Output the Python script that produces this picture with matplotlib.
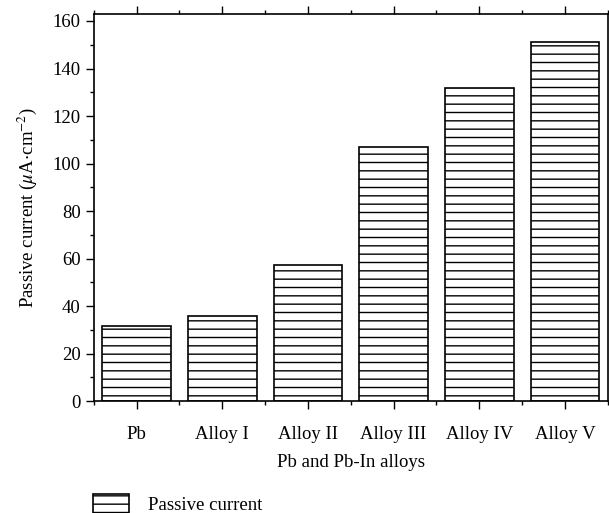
import numpy as np
import matplotlib
matplotlib.use('Agg')
import matplotlib.pyplot as plt
from matplotlib.ticker import MultipleLocator

plt.rcParams['font.family'] = ['Liberation Serif', 'DejaVu Serif']
plt.rcParams['mathtext.fontset'] = 'stix'
plt.rcParams['hatch.linewidth'] = 1.0
plt.rcParams['font.size'] = 13.5

categories = ['Pb', 'Alloy I', 'Alloy II', 'Alloy III', 'Alloy IV', 'Alloy V']
passive_current = [31.5, 36, 57.5, 107, 132, 151]

fig = plt.figure(figsize=(6.09, 5.13), dpi=100)
ax = fig.add_axes([0.154, 0.218, 0.844, 0.755])

x = np.arange(len(categories))
ax.bar(x, passive_current, width=0.8, color='white', edgecolor='black',
       linewidth=1.2, hatch='--', label='Passive current')

ax.set_xlim(-0.5, len(categories) - 0.5)
ax.set_ylim(0, 163)
ax.set_xticks(x)
ax.set_xticklabels(categories)
ax.xaxis.set_minor_locator(MultipleLocator(0.5))
ax.yaxis.set_major_locator(MultipleLocator(20))
ax.yaxis.set_minor_locator(MultipleLocator(10))

ax.tick_params(axis='x', which='both', direction='out', top=True, bottom=True)
ax.tick_params(axis='x', which='major', length=6, width=1, pad=12)
ax.tick_params(axis='x', which='minor', length=3, width=1)
ax.tick_params(axis='y', which='both', direction='out', left=True, right=False)
ax.tick_params(axis='y', which='major', length=6, width=1)
ax.tick_params(axis='y', which='minor', length=3, width=1)
for s in ax.spines.values():
    s.set_linewidth(1.2)

ax.set_xlabel('Pb and Pb-In alloys', labelpad=8)
ax.set_ylabel(r'Passive current ($\mu$A$\cdot$cm$^{-2}$)', labelpad=10)

fig.legend(loc='lower left', bbox_to_anchor=(0.125, -0.035), frameon=False,
           handlelength=1.9, handleheight=1.3, handletextpad=1.05)

fig.savefig('out.png', dpi=100)
